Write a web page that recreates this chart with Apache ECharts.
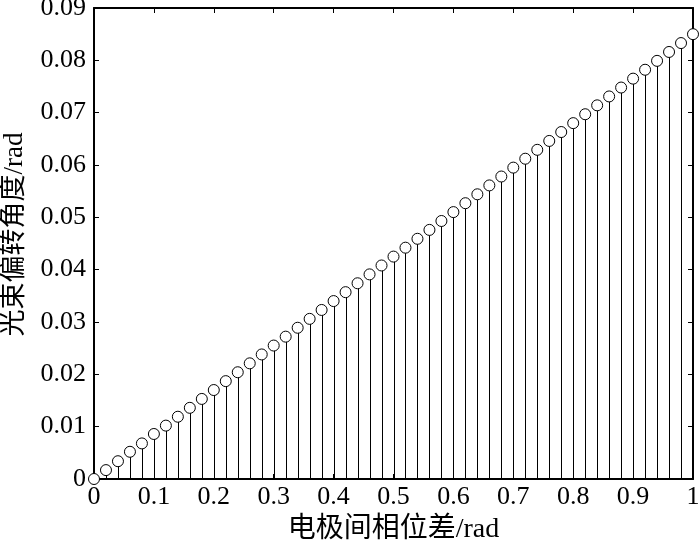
<!DOCTYPE html>
<html>
<head>
<meta charset="utf-8">
<script src="https://cdn.jsdelivr.net/npm/echarts@6/dist/echarts.min.js"></script>
<style>
html,body{margin:0;padding:0;background:#fff;}
#chart{width:700px;height:545px;}
</style>
</head>
<body>
<div id="chart"></div>
<script>
// Phase difference between electrodes (rad)
var xValues = [0, 0.02, 0.04, 0.06, 0.08, 0.10, 0.12, 0.14, 0.16, 0.18,
  0.20, 0.22, 0.24, 0.26, 0.28, 0.30, 0.32, 0.34, 0.36, 0.38,
  0.40, 0.42, 0.44, 0.46, 0.48, 0.50, 0.52, 0.54, 0.56, 0.58,
  0.60, 0.62, 0.64, 0.66, 0.68, 0.70, 0.72, 0.74, 0.76, 0.78,
  0.80, 0.82, 0.84, 0.86, 0.88, 0.90, 0.92, 0.94, 0.96, 0.98, 1.00];
// Beam deflection angle (rad)
var yValues = [0, 0.0017, 0.0034, 0.0052, 0.0068, 0.0086, 0.0102, 0.0119, 0.0136, 0.0153,
  0.0170, 0.0187, 0.0204, 0.0221, 0.0238, 0.0255, 0.0272, 0.0289, 0.0306, 0.0323,
  0.0340, 0.0357, 0.0374, 0.0391, 0.0408, 0.0425, 0.0442, 0.0459, 0.0476, 0.0493,
  0.0510, 0.0527, 0.0544, 0.0561, 0.0578, 0.0595, 0.0612, 0.0629, 0.0646, 0.0663,
  0.0680, 0.0697, 0.0714, 0.0731, 0.0748, 0.0765, 0.0782, 0.0799, 0.0816, 0.0833, 0.0850];
var xTitle = '电极间相位差/rad';
var yTitle = '光束偏转角度/rad';

var pts = xValues.map(function (x, i) { return [x, yValues[i]]; });
var font = '"Liberation Serif", "Times New Roman", "Noto Sans CJK SC", serif';

function axisCommon(extra) {
  var base = {
    axisLine: {show: true, onZero: false, lineStyle: {color: '#000', width: 2}},
    axisTick: {show: true, inside: true, length: 5, lineStyle: {color: '#000', width: 1}},
    splitLine: {show: false}
  };
  for (var k in extra) base[k] = extra[k];
  return base;
}

var chart = echarts.init(document.getElementById('chart'), null, {renderer: 'canvas'});
chart.setOption({
  backgroundColor: '#fff',
  animation: false,
  grid: {left: 94, right: 7, top: 8, bottom: 66, show: false, containLabel: false, outerBoundsMode: 'none'},
  xAxis: [axisCommon({
    type: 'value', min: 0, max: 1, interval: 0.1, position: 'bottom',
    name: xTitle, nameLocation: 'middle', nameGap: 37,
    nameTextStyle: {fontFamily: font, fontSize: 28, color: '#000'},
    axisLabel: {fontFamily: font, fontSize: 26, color: '#000', margin: 5}
  }), axisCommon({
    type: 'value', min: 0, max: 1, interval: 0.1, position: 'top',
    axisLabel: {show: false}
  })],
  yAxis: [axisCommon({
    type: 'value', min: 0, max: 0.09, interval: 0.01, position: 'left',
    name: yTitle, nameLocation: 'middle', nameGap: 66, nameRotate: 90,
    nameTextStyle: {fontFamily: font, fontSize: 27, color: '#000', padding: [0, 0, 0, 18]},
    axisLabel: {fontFamily: font, fontSize: 26, color: '#000', margin: 8}
  }), axisCommon({
    type: 'value', min: 0, max: 0.09, interval: 0.01, position: 'right',
    axisLabel: {show: false}
  })],
  series: [{
    type: 'custom',
    xAxisIndex: 0, yAxisIndex: 0,
    data: pts,
    clip: false,
    renderItem: function (params, api) {
      var p0 = api.coord([api.value(0), 0]);
      var p1 = api.coord([api.value(0), api.value(1)]);
      return {
        type: 'line',
        shape: {x1: Math.round(p0[0]) + 0.5, y1: p0[1], x2: Math.round(p1[0]) + 0.5, y2: p1[1] + 5},
        style: {stroke: '#000', lineWidth: 1}
      };
    },
    z: 2
  }, {
    type: 'scatter',
    xAxisIndex: 0, yAxisIndex: 0,
    data: pts,
    symbol: 'circle',
    symbolSize: 11,
    clip: false,
    itemStyle: {color: '#fff', borderColor: '#000', borderWidth: 1, opacity: 1},
    z: 3
  }]
});
</script>
</body>
</html>
